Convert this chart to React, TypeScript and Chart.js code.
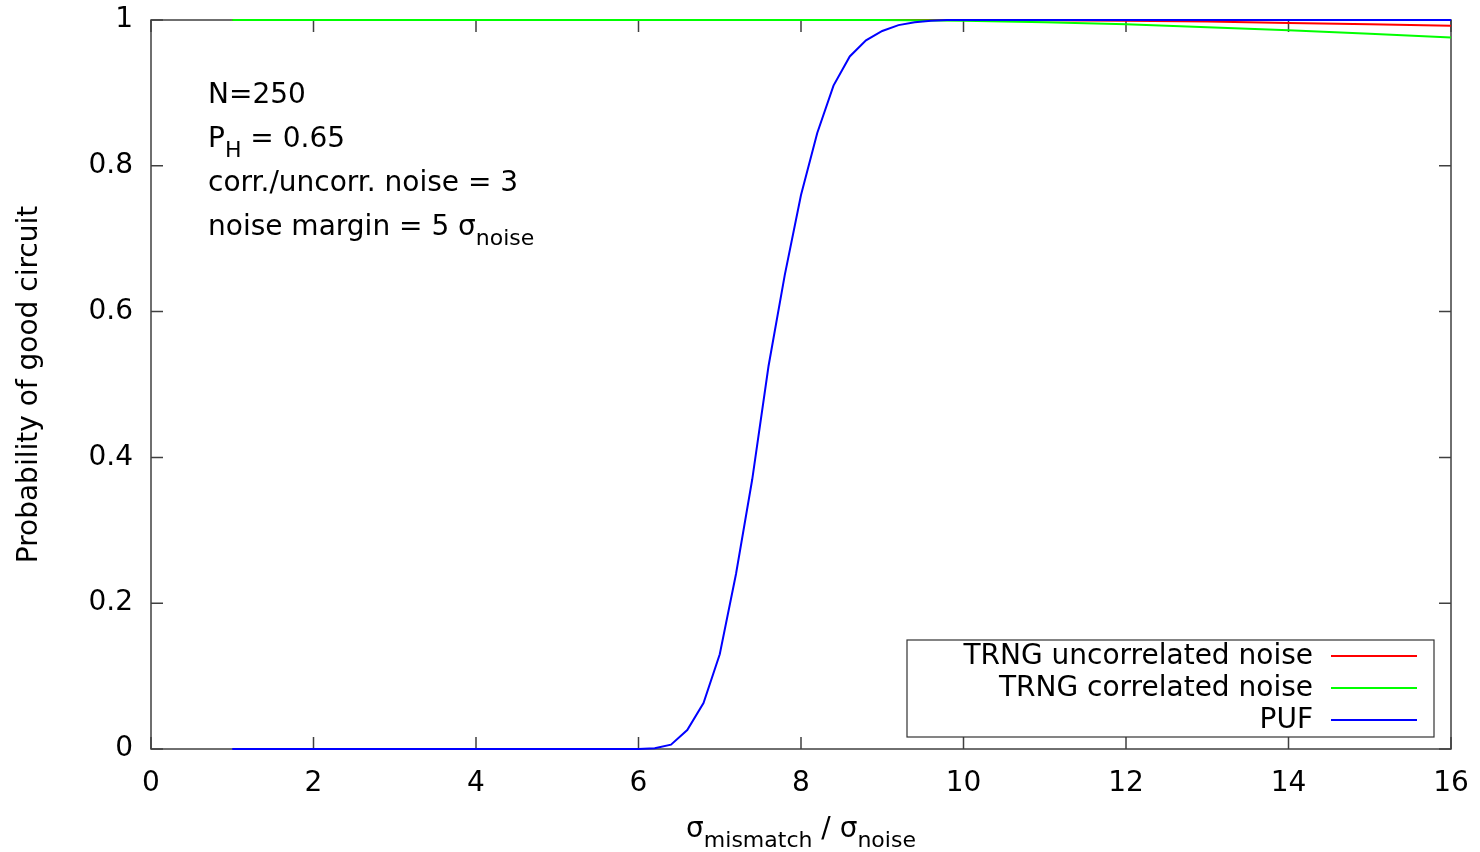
import React, { useEffect, useRef } from "react";
import { Chart, registerables } from "chart.js";

Chart.register(...registerables);

// ---- data ----
const uncorrX = [1, 10, 11, 12, 13, 14, 15, 16];
const uncorrY = [1, 1, 0.9995, 0.999, 0.998, 0.996, 0.994, 0.992];

const corrX = [1, 9, 10, 11, 12, 13, 14, 15, 16];
const corrY = [1, 1, 0.999, 0.997, 0.994, 0.99, 0.986, 0.981, 0.976];

const pufX = [1, 6.0, 6.2, 6.4, 6.6, 6.8, 7.0, 7.2, 7.4, 7.6, 7.8, 8.0, 8.2, 8.4, 8.6, 8.8, 9.0, 9.2, 9.4, 9.6, 9.8, 10.0, 16];
const pufY = [0, 0, 0.001, 0.006, 0.026, 0.063, 0.13, 0.24, 0.37, 0.525, 0.65, 0.76, 0.845, 0.91, 0.95, 0.972, 0.985, 0.993, 0.997, 0.999, 1, 1, 1];

const seriesNames = ["TRNG uncorrelated noise", "TRNG correlated noise", "PUF"];
const seriesColors = ["#ff0000", "#00ff00", "#0000ff"];

const xTicks = [0, 2, 4, 6, 8, 10, 12, 14, 16];
const yTicks = [0, 0.2, 0.4, 0.6, 0.8, 1];
const yTickLabels = ["0", "0.2", "0.4", "0.6", "0.8", "1"];

type Part = { t: string; sub?: boolean };
const annotationLines: Part[][] = [
  [{ t: "N=250" }],
  [{ t: "P" }, { t: "H", sub: true }, { t: " = 0.65" }],
  [{ t: "corr./uncorr. noise = 3" }],
  [{ t: "noise margin = 5 σ" }, { t: "noise", sub: true }],
];
const xTitle: Part[] = [{ t: "σ" }, { t: "mismatch", sub: true }, { t: " / σ" }, { t: "noise", sub: true }];
const yTitle = "Probability of good circuit";

const FAMILY = '"DejaVu Sans", sans-serif';
const FS = 28;
const SUB = 22;

function richWidth(ctx: CanvasRenderingContext2D, parts: Part[]) {
  let w = 0;
  for (const p of parts) {
    ctx.font = `${p.sub ? SUB : FS}px ${FAMILY}`;
    w += ctx.measureText(p.t).width;
  }
  return w;
}

function drawRich(ctx: CanvasRenderingContext2D, parts: Part[], x: number, y: number) {
  let cx = x;
  ctx.textBaseline = "alphabetic";
  ctx.textAlign = "left";
  for (const p of parts) {
    ctx.font = `${p.sub ? SUB : FS}px ${FAMILY}`;
    ctx.fillText(p.t, cx, p.sub ? y + 10 : y);
    cx += ctx.measureText(p.t).width;
  }
}

const framePlugin = {
  id: "gnuframe",
  beforeDatasetsDraw(chart: any) {
    const { ctx, chartArea: a, scales } = chart;
    const x = scales.x;
    const y = scales.y;
    ctx.save();
    ctx.strokeStyle = "#404040";
    ctx.lineWidth = 1.5;
    ctx.strokeRect(a.left, a.top, a.right - a.left, a.bottom - a.top);
    ctx.beginPath();
    const tl = 12;
    for (const t of x.ticks) {
      const px = x.getPixelForValue(t.value);
      ctx.moveTo(px, a.bottom);
      ctx.lineTo(px, a.bottom - tl);
      ctx.moveTo(px, a.top);
      ctx.lineTo(px, a.top + tl);
    }
    for (const t of y.ticks) {
      const py = y.getPixelForValue(t.value);
      ctx.moveTo(a.left, py);
      ctx.lineTo(a.left + tl, py);
      ctx.moveTo(a.right, py);
      ctx.lineTo(a.right - tl, py);
    }
    ctx.stroke();
    ctx.restore();
  },
  afterDraw(chart: any) {
    const { ctx, chartArea: a } = chart;
    ctx.save();
    ctx.fillStyle = "#000";
    // annotations
    annotationLines.forEach((line, i) => {
      drawRich(ctx, line, 208, 103 + i * 44);
    });
    // x title
    const w = richWidth(ctx, xTitle);
    drawRich(ctx, xTitle, (a.left + a.right) / 2 - w / 2, 837);
    // y title
    ctx.save();
    ctx.translate(37, (a.top + a.bottom) / 2);
    ctx.rotate(-Math.PI / 2);
    ctx.font = `${FS}px ${FAMILY}`;
    ctx.textAlign = "center";
    ctx.textBaseline = "alphabetic";
    ctx.fillText(yTitle, 0, 0);
    ctx.restore();
    // legend
    const bx = 907, by = 640, bw = 527, bh = 97;
    ctx.fillStyle = "#fff";
    ctx.strokeStyle = "#333";
    ctx.lineWidth = 1.2;
    ctx.fillRect(bx, by, bw, bh);
    ctx.strokeRect(bx, by, bw, bh);
    ctx.font = `${FS}px ${FAMILY}`;
    ctx.textAlign = "right";
    ctx.textBaseline = "middle";
    seriesNames.forEach((name, i) => {
      const cy = 656 + i * 32;
      ctx.fillStyle = "#000";
      ctx.fillText(name, 1313, cy + 1);
      ctx.strokeStyle = seriesColors[i];
      ctx.lineWidth = 2;
      ctx.beginPath();
      ctx.moveTo(1331, cy);
      ctx.lineTo(1417, cy);
      ctx.stroke();
    });
    ctx.restore();
  },
};

export default function App() {
  const ref = useRef<HTMLCanvasElement | null>(null);
  useEffect(() => {
    document.body.style.margin = "0";
    if (!ref.current) return;
    const mk = (xs: number[], ys: number[]) => xs.map((x, i) => ({ x, y: ys[i] }));
    const chart = new Chart(ref.current, {
      type: "line",
      data: {
        datasets: [
          { label: seriesNames[2], data: mk(pufX, pufY), borderColor: seriesColors[2], order: 0 },
          { label: seriesNames[1], data: mk(corrX, corrY), borderColor: seriesColors[1], order: 1 },
          { label: seriesNames[0], data: mk(uncorrX, uncorrY), borderColor: seriesColors[0], order: 2 },
        ].map((d) => ({ ...d, borderWidth: 2, pointRadius: 0, tension: 0, fill: false, clip: false as any })),
      },
      options: {
        animation: false,
        responsive: false,
        events: [],
        layout: { padding: { top: 20, right: 29, left: 0, bottom: 0 } },
        plugins: { legend: { display: false }, tooltip: { enabled: false } },
        scales: {
          x: {
            type: "linear",
            min: 0,
            max: 16,
            afterBuildTicks: (s: any) => {
              s.ticks = xTicks.map((v) => ({ value: v }));
            },
            afterFit: (s: any) => {
              s.height = 103;
              s.paddingLeft = 0;
              s.paddingRight = 0;
            },
            grid: { display: false },
            border: { display: false },
            ticks: {
              padding: 10,
              color: "#000",
              font: { family: FAMILY, size: FS },
              maxRotation: 0,
              callback: (v: any) => String(v),
            },
          },
          y: {
            type: "linear",
            min: 0,
            max: 1,
            afterBuildTicks: (s: any) => {
              s.ticks = yTicks.map((v) => ({ value: v }));
            },
            afterFit: (s: any) => {
              s.width = 151;
              s.paddingTop = 0;
              s.paddingBottom = 0;
            },
            grid: { display: false },
            border: { display: false },
            ticks: {
              padding: 10,
              color: "#000",
              font: { family: FAMILY, size: FS },
              callback: (v: any) => {
                const i = yTicks.indexOf(v);
                return i >= 0 ? yTickLabels[i] : "";
              },
            },
          },
        },
      },
      plugins: [framePlugin],
    });
    return () => chart.destroy();
  }, []);
  return (
    <div style={{ width: 1480, height: 852, background: "#fff" }}>
      <canvas ref={ref} width={1480} height={852} />
    </div>
  );
}
